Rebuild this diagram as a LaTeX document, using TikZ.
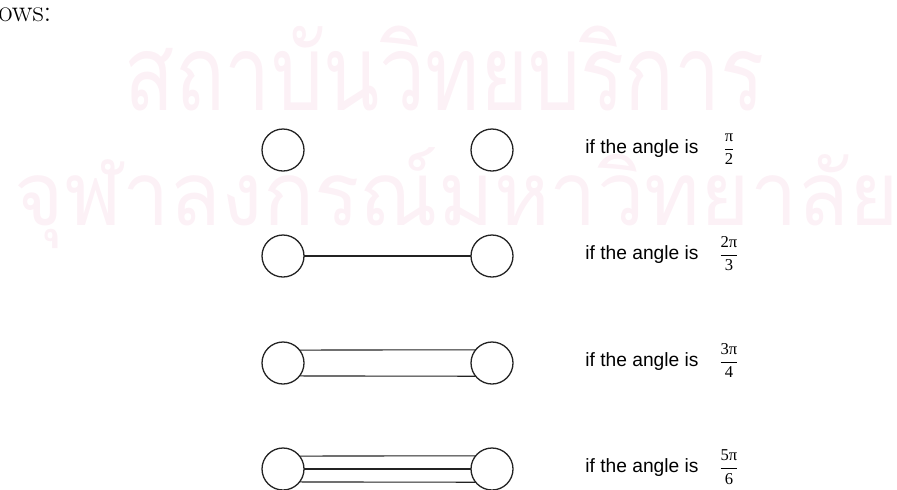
\documentclass[tikz,border=0pt]{standalone}
\usepackage{fontspec}
\setmainfont{Latin Modern Roman}
\newfontfamily\arialfont{Liberation Sans}
\newfontfamily\timesfont{Liberation Serif}
\newfontfamily\thaifont[Script=Thai]{Loma}
\definecolor{wmpink}{RGB}{252,241,246}
\definecolor{inkgray}{RGB}{35,35,35}
\newcommand{\angfrac}[2]{{\fontsize{8.3}{10}\selectfont$\dfrac{\hbox{\timesfont #1}}{\hbox{\timesfont #2}}$}}
\usepackage{amsmath}
\begin{document}
\begin{tikzpicture}[x=0.5pt,y=-0.5pt,
  ball/.style={circle,draw=inkgray,line width=0.65pt,minimum size=21pt,inner sep=0pt,outer sep=0pt},
  bond/.style={draw=inkgray,line width=0.55pt},
  lbl/.style={anchor=base west,inner sep=0pt,font=\arialfont\fontsize{9.6}{11}\selectfont},
  frc/.style={anchor=base,inner sep=0pt},
  wm/.style={inner sep=0pt,text=wmpink}]
\useasboundingbox (0,0) rectangle (897,489);
% watermark
\node[wm,anchor=base] (wa) at (445,110) {\scalebox{1}[1.28]{\resizebox{320pt}{!}{\thaifont สถาบันวิทยบริการ}}};
\node[wm,anchor=base] (wb) at (457,225) {\scalebox{1}[1.05]{\resizebox{442pt}{!}{\thaifont จุฬาลงกรณ์มหาวิทยาลัย}}};
% cut-off heading
\node[anchor=base west,inner sep=0pt,font=\fontsize{15.5}{18}\selectfont] (hd) at (-2,21) {ows:};
% row 1
\node[ball] (L1) at (283,150) {};
\node[ball] (R1) at (492,150) {};
\node[lbl] (t1) at (585,153) {if the angle is};
\node[frc] (f1) at (729,153) {\angfrac{π}{2}};
% row 2
\node[ball] (L2) at (283,256) {};
\node[ball] (R2) at (492,256) {};
\draw[bond] (L2.east) -- (R2.west);
\node[lbl] (t2) at (585,259) {if the angle is};
\node[frc] (f2) at (729,259) {\angfrac{2π}{3}};
% row 3
\node[ball] (L3) at (283,363) {};
\node[ball] (R3) at (492,363) {};
\draw[bond] (L3.38.2) -- (R3.141.8);
\draw[bond] (L3.-38.2) -- (R3.-141.8);
\node[lbl] (t3) at (585,366) {if the angle is};
\node[frc] (f3) at (729,366) {\angfrac{3π}{4}};
% row 4
\node[ball] (L4) at (283,469) {};
\node[ball] (R4) at (492,469) {};
\draw[bond] (L4.38.2) -- (R4.141.8);
\draw[bond] (L4.east) -- (R4.west);
\draw[bond] (L4.-38.2) -- (R4.-141.8);
\node[lbl] (t4) at (585,472) {if the angle is};
\node[frc] (f4) at (729,472) {\angfrac{5π}{6}};
\end{tikzpicture}
\end{document}
